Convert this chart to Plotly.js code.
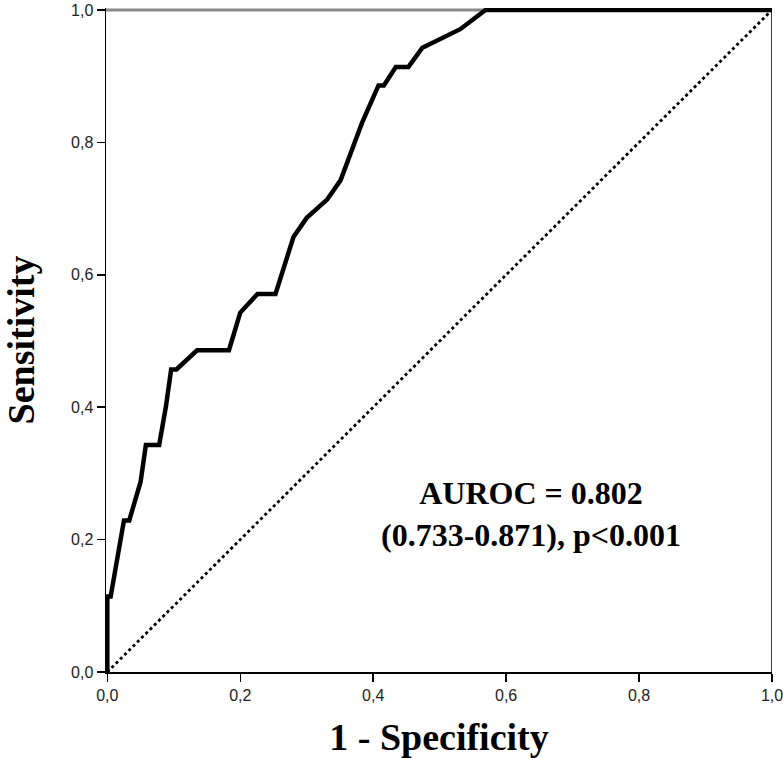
<!DOCTYPE html>
<html>
<head>
<meta charset="utf-8">
<script src="https://cdn.plot.ly/plotly-3.0.1.min.js"></script>
<style>html,body{margin:0;padding:0;background:#fff;}#chart{width:783px;height:758px;}</style>
</head>
<body>
<div id="chart"></div>
<script>
// ROC curve points (1 - specificity, sensitivity)
const fpr = [0, 0, 0.005, 0.015, 0.025, 0.033, 0.05, 0.058, 0.078, 0.088, 0.096, 0.104, 0.135, 0.183, 0.2, 0.226, 0.253, 0.28, 0.3, 0.331, 0.351, 0.383, 0.408, 0.416, 0.434, 0.453, 0.474, 0.531, 0.569, 1.0];
const tpr = [0, 0.114, 0.114, 0.171, 0.229, 0.229, 0.287, 0.343, 0.343, 0.4, 0.457, 0.457, 0.486, 0.486, 0.543, 0.571, 0.571, 0.657, 0.686, 0.714, 0.743, 0.829, 0.886, 0.886, 0.914, 0.914, 0.943, 0.971, 1.0, 1.0];
// reference diagonal
const refX = [0, 1];
const refY = [0, 1];
const tickVals = [0, 0.2, 0.4, 0.6, 0.8, 1.0];
const tickText = ["0,0", "0,2", "0,4", "0,6", "0,8", "1,0"];
const xTitle = "1 - Specificity";
const yTitle = "Sensitivity";
const annText = "AUROC = 0.802<br>(0.733-0.871), p<0.001";

const traces = [
  {x: refX, y: refY, type: 'scatter', mode: 'lines', line: {color: '#000', width: 2.8, dash: 'dot'}, hoverinfo: 'skip'},
  {x: fpr, y: tpr, type: 'scatter', mode: 'lines', line: {color: '#000', width: 4.5}, hoverinfo: 'skip'}
];

const tickFont = {family: 'Liberation Sans, Arial, sans-serif', size: 16, color: '#222'};
const titleFont = {family: 'Liberation Serif, Times New Roman, serif', size: 38, color: '#000'};

const layout = {
  width: 783, height: 758,
  margin: {l: 106, r: 11, t: 8, b: 86},
  paper_bgcolor: '#fff', plot_bgcolor: '#fff',
  showlegend: false,
  xaxis: {
    range: [-0.002, 1.0], tickvals: tickVals, ticktext: tickText,
    ticks: 'outside', ticklen: 8, tickwidth: 1.5, tickcolor: '#000',
    showline: true, linecolor: '#000', linewidth: 1.5, ticklabeloverflow: 'allow',
    showgrid: false, zeroline: false, tickfont: tickFont,
    title: {text: '<b>' + xTitle + '</b>', font: titleFont, standoff: 22}
  },
  yaxis: {
    range: [0, 1.003], tickvals: tickVals, ticktext: tickText,
    ticks: 'outside', ticklen: 8, tickwidth: 1.5, tickcolor: '#000',
    showline: true, linecolor: '#000', linewidth: 1.5, ticklabeloverflow: 'allow',
    showgrid: false, zeroline: false, tickfont: tickFont,
    title: {text: '<b>' + yTitle + '</b>', font: titleFont, standoff: 52}
  },
  shapes: [
    {type: 'line', xref: 'paper', x0: 0, x1: 1, yref: 'y', y0: 1, y1: 1, line: {color: '#8a8a8a', width: 3}, layer: 'below'},
    {type: 'line', xref: 'x', x0: 1, x1: 1, yref: 'paper', y0: 0, y1: 1, line: {color: '#000', width: 1.5}, layer: 'below'}
  ],
  annotations: [
    {x: 0.6376, y: 0.238, xref: 'x', yref: 'y', text: '<b>' + annText + '</b>', showarrow: false,
     font: {family: 'Liberation Serif, Times New Roman, serif', size: 32, color: '#000'}, align: 'center'}
  ]
};

Plotly.newPlot('chart', traces, layout, {staticPlot: true, displayModeBar: false});
</script>
</body>
</html>
